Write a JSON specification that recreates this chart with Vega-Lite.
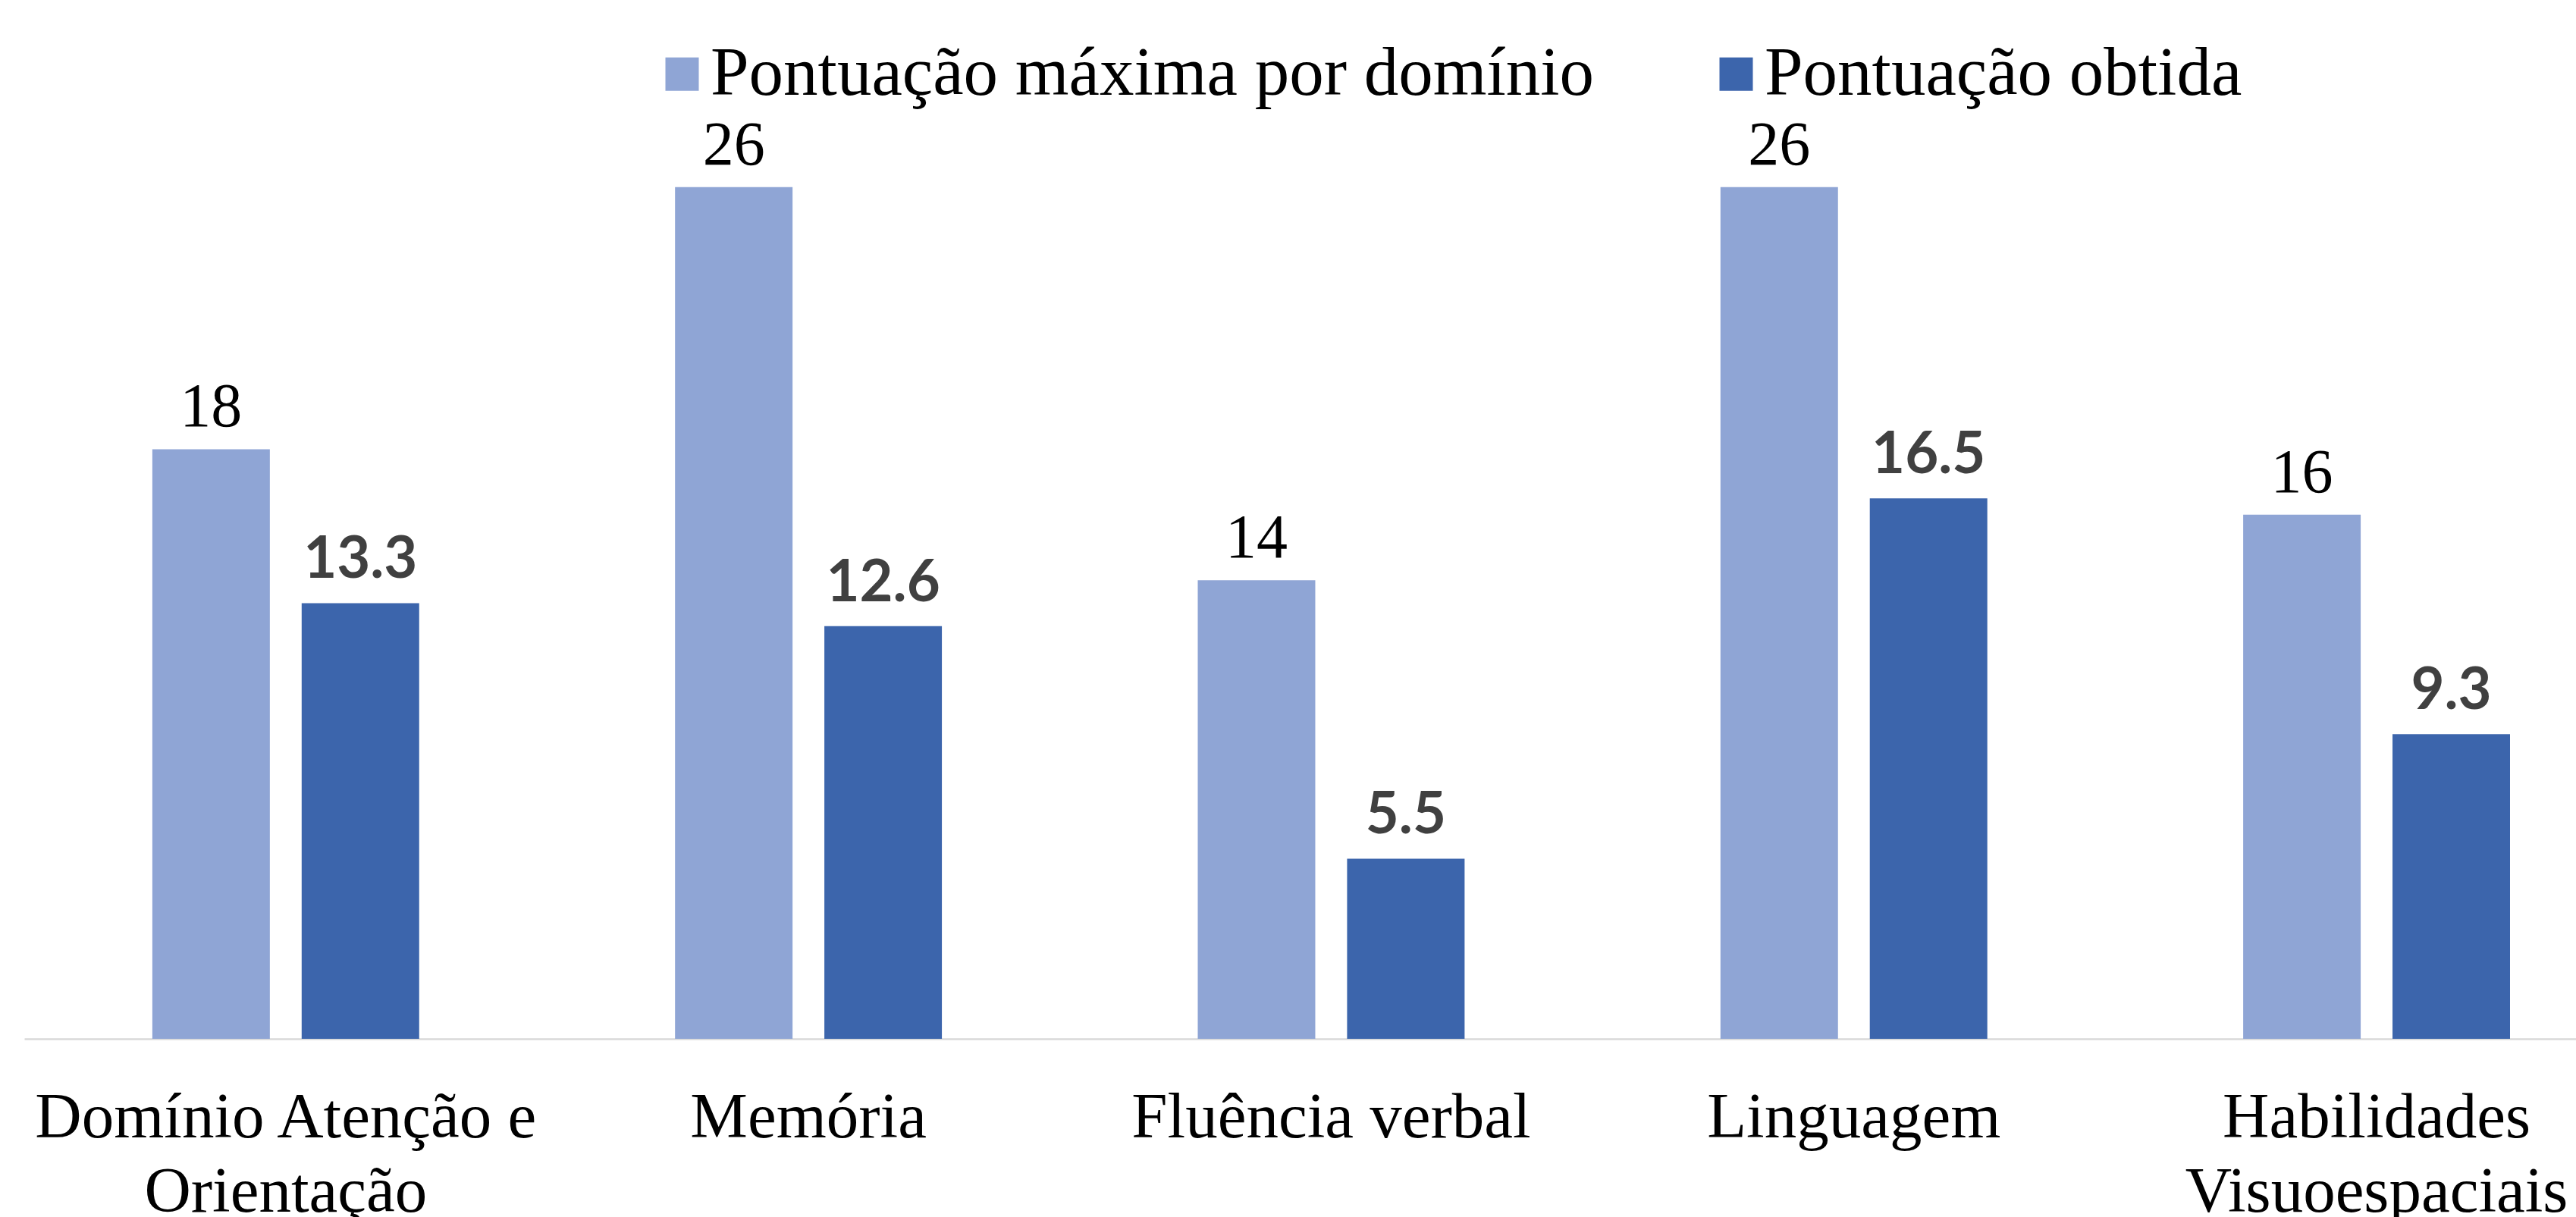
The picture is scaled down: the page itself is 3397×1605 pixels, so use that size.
{
  "$schema": "https://vega.github.io/schema/vega-lite/v6.json",
  "width": 3365,
  "height": 1370,
  "autosize": {"type": "none"},
  "padding": {"left": 32, "top": 0, "right": 0, "bottom": 235},
  "background": "white",
  "config": {"view": {"stroke": null}},
  "data": {
    "values": [
      {"dominio": "Domínio Atenção e Orientação", "serie": "Pontuação máxima por domínio", "valor": 18},
      {"dominio": "Domínio Atenção e Orientação", "serie": "Pontuação obtida", "valor": 13.3},
      {"dominio": "Memória", "serie": "Pontuação máxima por domínio", "valor": 26},
      {"dominio": "Memória", "serie": "Pontuação obtida", "valor": 12.6},
      {"dominio": "Fluência verbal", "serie": "Pontuação máxima por domínio", "valor": 14},
      {"dominio": "Fluência verbal", "serie": "Pontuação obtida", "valor": 5.5},
      {"dominio": "Linguagem", "serie": "Pontuação máxima por domínio", "valor": 26},
      {"dominio": "Linguagem", "serie": "Pontuação obtida", "valor": 16.5},
      {"dominio": "Habilidades Visuoespaciais", "serie": "Pontuação máxima por domínio", "valor": 16},
      {"dominio": "Habilidades Visuoespaciais", "serie": "Pontuação obtida", "valor": 9.3}
    ]
  },
  "encoding": {
    "x": {
      "field": "dominio",
      "type": "nominal",
      "sort": null,
      "scale": {"paddingInner": 0.4895, "paddingOuter": 0.1856, "align": 0.66},
      "axis": {
        "title": null,
        "domainColor": "#D9D9D9",
        "domainWidth": 2.5,
        "ticks": false,
        "labelFont": "Liberation Serif",
        "labelFontSize": 85,
        "labelColor": "black",
        "labelPadding": 62,
        "labelBaseline": "top",
        "labelLineHeight": 98,
        "labelLimit": 3000,
        "labelAngle": 0,
        "labelOverlap": false,
        "labelFlush": false,
        "labelExpr": "datum.value == 'Domínio Atenção e Orientação' ? ['Domínio Atenção e', 'Orientação'] : datum.value == 'Habilidades Visuoespaciais' ? ['Habilidades', 'Visuoespaciais'] : datum.value"
      }
    },
    "xOffset": {
      "field": "serie",
      "type": "nominal",
      "sort": ["Pontuação máxima por domínio", "Pontuação obtida"],
      "scale": {"paddingInner": 0.213, "paddingOuter": 0}
    },
    "y": {
      "field": "valor",
      "type": "quantitative",
      "scale": {"domain": [0, 31.713], "nice": false, "zero": true},
      "axis": null
    }
  },
  "layer": [
    {
      "mark": {"type": "bar", "strokeWidth": 0},
      "encoding": {
        "color": {
          "field": "serie",
          "type": "nominal",
          "scale": {
            "domain": ["Pontuação máxima por domínio", "Pontuação obtida"],
            "range": ["#8FA5D5", "#3C65AC"]
          },
          "legend": {
            "orient": "none",
            "legendX": 822,
            "legendY": 52,
            "direction": "horizontal",
            "title": null,
            "symbolType": "square",
            "symbolSize": 1936,
            "symbolStrokeWidth": 0,
            "symbolOpacity": 1,
            "labelFont": "Liberation Serif",
            "labelFontSize": 91,
            "labelColor": "black",
            "labelOffset": -8,
            "labelLimit": 3000,
            "columnPadding": 141
          }
        }
      }
    },
    {
      "transform": [{"filter": "datum.serie == 'Pontuação máxima por domínio'"}],
      "mark": {"type": "text", "font": "Liberation Serif", "fontSize": 82, "baseline": "alphabetic", "dy": -30, "color": "black"},
      "encoding": {"text": {"field": "valor", "type": "quantitative", "format": "d"}}
    },
    {
      "transform": [{"filter": "datum.serie == 'Pontuação obtida'"}],
      "mark": {"type": "text", "font": "Lato", "fontWeight": "bold", "fontSize": 76, "baseline": "alphabetic", "dy": -33, "color": "#404040"},
      "encoding": {"text": {"field": "valor", "type": "quantitative", "format": ".1f"}}
    }
  ]
}
